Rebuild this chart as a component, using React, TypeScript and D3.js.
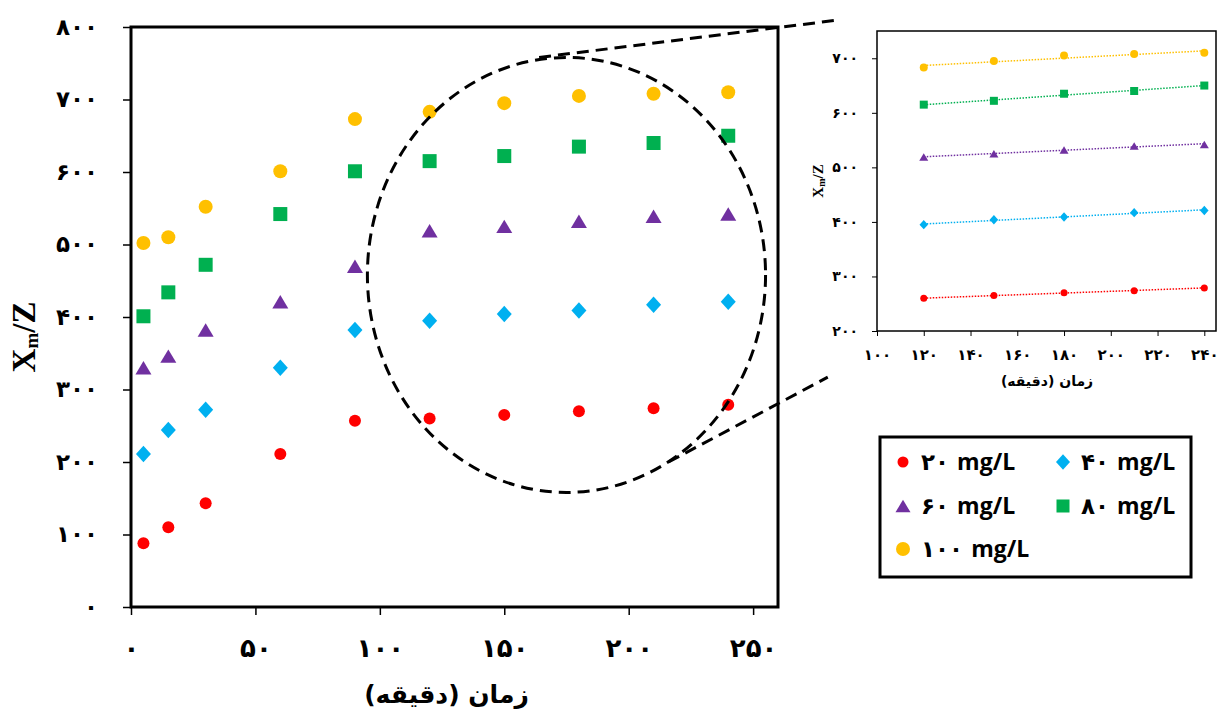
import React, { useRef, useEffect } from 'react';
import * as d3 from 'd3';

// sampling times (min)
const times = [5, 15, 30, 60, 90, 120, 150, 180, 210, 240];

// Xm/Z for each initial concentration
const c20 = [88, 110, 143, 211, 257, 260, 265, 270, 274, 279];
const c40 = [211, 244, 272, 330, 382, 395, 404, 409, 417, 421];
const c60 = [330, 346, 382, 421, 470, 519, 525, 532, 539, 542];
const c80 = [401, 434, 472, 542, 601, 615, 622, 635, 640, 650];
const c100 = [502, 510, 552, 601, 673, 683, 695, 705, 708, 710];

const seriesLabels = ['۲۰', '۴۰', '۶۰', '۸۰', '۱۰۰'];
const seriesColors = ['#FF0000', '#00B0F0', '#7030A0', '#00B050', '#FFC000'];
const seriesShapes = ['circle', 'diamond', 'triangle', 'square', 'circle'];
const seriesValues = [c20, c40, c60, c80, c100];

const xTicksMain = [0, 50, 100, 150, 200, 250];
const yTicksMain = [0, 100, 200, 300, 400, 500, 600, 700, 800];
const xTicksInset = [100, 120, 140, 160, 180, 200, 220, 240];
const yTicksInset = [200, 300, 400, 500, 600, 700];

const xTitle = 'زمان (دقیقه)';
const unit = 'mg/L';

const faDigits = '۰۱۲۳۴۵۶۷۸۹';
const fa = (n: any) => String(n).replace(/\d/g, (d) => faDigits[+d]);

const FA_FONT = 'DejaVu Sans';

function addMarker(g: any, shape: string, cx: number, cy: number, s: number, color: string) {
  if (shape === 'circle') {
    g.append('circle').attr('cx', cx).attr('cy', cy).attr('r', s / 2).attr('fill', color);
  } else if (shape === 'square') {
    g.append('rect').attr('x', cx - s / 2).attr('y', cy - s / 2).attr('width', s).attr('height', s).attr('fill', color);
  } else if (shape === 'diamond') {
    const w = s / 2, h = s * 0.55;
    g.append('path')
      .attr('d', `M${cx},${cy - h}L${cx + w},${cy}L${cx},${cy + h}L${cx - w},${cy}Z`)
      .attr('fill', color);
  } else {
    const w = s / 2, h = s * 0.42;
    g.append('path')
      .attr('d', `M${cx},${cy - h}L${cx + w},${cy + h}L${cx - w},${cy + h}Z`)
      .attr('fill', color);
  }
}

const Chart: React.FC = () => {
  const ref = useRef<SVGSVGElement>(null);

  useEffect(() => {
    if (!ref.current) return;
    const svg = d3.select(ref.current);
    svg.selectAll('*').remove();

    // ---------- main chart ----------
    const x = d3.scaleLinear().domain([0, 260]).range([131, 778]);
    const y = d3.scaleLinear().domain([0, 800]).range([607, 27]);

    svg.append('rect')
      .attr('x', x(0)).attr('y', y(800))
      .attr('width', x(260) - x(0)).attr('height', y(0) - y(800))
      .attr('fill', 'none').attr('stroke', '#000').attr('stroke-width', 3);

    const yAxis = svg.append('g')
      .attr('transform', `translate(${x(0)},0)`)
      .call(d3.axisLeft(y).tickValues(yTicksMain).tickSize(8).tickPadding(25).tickFormat(fa));
    yAxis.select('.domain').remove();
    yAxis.selectAll('line').attr('stroke-width', 1.5);
    yAxis.selectAll('text')
      .attr('font-family', FA_FONT).attr('font-weight', 'bold').attr('font-size', 23)
      .attr('letter-spacing', -2).attr('fill', '#000');

    const xAxis = svg.append('g')
      .attr('transform', `translate(0,${y(0)})`)
      .call(d3.axisBottom(x).tickValues(xTicksMain).tickSize(8).tickPadding(24).tickFormat(fa));
    xAxis.select('.domain').remove();
    xAxis.selectAll('line').attr('stroke-width', 1.5);
    xAxis.selectAll('text')
      .attr('font-family', FA_FONT).attr('font-weight', 'bold').attr('font-size', 26)
      .attr('letter-spacing', -2).attr('fill', '#000');

    svg.append('text')
      .attr('x', (x(0) + x(260)) / 2 - 8).attr('y', 703)
      .attr('text-anchor', 'middle').attr('direction', 'rtl')
      .attr('font-family', FA_FONT).attr('font-weight', 'bold').attr('font-size', 25)
      .text(xTitle);

    const yt = svg.append('text')
      .attr('transform', 'translate(35,337) rotate(-90)')
      .attr('text-anchor', 'middle')
      .attr('font-family', 'Liberation Serif').attr('font-weight', 'bold').attr('font-size', 33);
    yt.append('tspan').text('X');
    yt.append('tspan').attr('font-size', 19).attr('dy', 3).text('m');
    yt.append('tspan').attr('dy', -3).text('/Z');

    const sizesMain = [12, 15, 16, 14, 14];
    seriesValues.forEach((vals, i) => {
      const g = svg.append('g');
      vals.forEach((v, j) => addMarker(g, seriesShapes[i], x(times[j]), y(v), sizesMain[i], seriesColors[i]));
    });

    // zoom ellipse and connectors
    svg.append('ellipse')
      .attr('cx', x(175)).attr('cy', y(458))
      .attr('rx', x(255) - x(175)).attr('ry', y(158) - y(458))
      .attr('fill', 'none').attr('stroke', '#000').attr('stroke-width', 3).attr('stroke-dasharray', '12,7');
    svg.append('line')
      .attr('x1', x(164)).attr('y1', y(758)).attr('x2', x(285)).attr('y2', y(810))
      .attr('stroke', '#000').attr('stroke-width', 3).attr('stroke-dasharray', '12,7');
    svg.append('line')
      .attr('x1', x(216)).attr('y1', y(200)).attr('x2', x(280)).attr('y2', y(317))
      .attr('stroke', '#000').attr('stroke-width', 3).attr('stroke-dasharray', '12,7');

    // ---------- inset ----------
    const xi = d3.scaleLinear().domain([100, 245]).range([877, 1216]);
    const yi = d3.scaleLinear().domain([200, 750]).range([331, 31]);

    svg.append('rect')
      .attr('x', xi(100)).attr('y', yi(750))
      .attr('width', xi(245) - xi(100)).attr('height', yi(200) - yi(750))
      .attr('fill', 'none').attr('stroke', '#000').attr('stroke-width', 1.5);

    const yiAxis = svg.append('g')
      .attr('transform', `translate(${xi(100)},0)`)
      .call(d3.axisLeft(yi).tickValues(yTicksInset).tickSize(5).tickPadding(14).tickFormat(fa));
    yiAxis.select('.domain').remove();
    yiAxis.selectAll('text')
      .attr('font-family', FA_FONT).attr('font-weight', 'bold').attr('font-size', 14)
      .attr('letter-spacing', -1).attr('fill', '#000');

    const xiAxis = svg.append('g')
      .attr('transform', `translate(0,${yi(200)})`)
      .call(d3.axisBottom(xi).tickValues(xTicksInset).tickSize(5).tickPadding(13).tickFormat(fa));
    xiAxis.select('.domain').remove();
    xiAxis.selectAll('text')
      .attr('font-family', FA_FONT).attr('font-weight', 'bold').attr('font-size', 15)
      .attr('letter-spacing', -1).attr('fill', '#000');

    svg.append('text')
      .attr('x', 1047).attr('y', 386)
      .attr('text-anchor', 'middle').attr('direction', 'rtl')
      .attr('font-family', FA_FONT).attr('font-weight', 'bold').attr('font-size', 14)
      .text(xTitle);

    const yti = svg.append('text')
      .attr('transform', 'translate(823,181) rotate(-90)')
      .attr('text-anchor', 'middle')
      .attr('font-family', 'Liberation Serif').attr('font-weight', 'bold').attr('font-size', 15);
    yti.append('tspan').text('X');
    yti.append('tspan').attr('font-size', 10).attr('dy', 2).text('m');
    yti.append('tspan').attr('dy', -2).text('/Z');

    const sizesInset = [7, 8.5, 9, 8, 8];
    seriesValues.forEach((vals, i) => {
      const pts = times.map((t, j) => [t, vals[j]]).filter((p) => p[0] >= 120);
      const mx = d3.mean(pts, (p) => p[0]) as number;
      const my = d3.mean(pts, (p) => p[1]) as number;
      const slope = (d3.sum(pts, (p) => (p[0] - mx) * (p[1] - my)) as number) /
        (d3.sum(pts, (p) => (p[0] - mx) ** 2) as number);
      const fit = (t: number) => my + slope * (t - mx);
      const g = svg.append('g');
      g.append('line')
        .attr('x1', xi(120)).attr('y1', yi(fit(120)))
        .attr('x2', xi(240)).attr('y2', yi(fit(240)))
        .attr('stroke', seriesColors[i]).attr('stroke-width', 1.5).attr('stroke-dasharray', '1.5,1.5');
      pts.forEach((p) => addMarker(g, seriesShapes[i], xi(p[0]), yi(p[1]), sizesInset[i], seriesColors[i]));
    });

    // ---------- legend ----------
    svg.append('rect')
      .attr('x', 880).attr('y', 437).attr('width', 311).attr('height', 140)
      .attr('fill', '#fff').attr('stroke', '#000').attr('stroke-width', 3);

    const legendCols = [903, 1063];
    const legendRows = [462, 506, 549];
    const legendSizes = [11, 14, 15, 13, 14];
    seriesLabels.forEach((lab, i) => {
      const cx = legendCols[i % 2];
      const cy = legendRows[Math.floor(i / 2)];
      const g = svg.append('g');
      addMarker(g, seriesShapes[i], cx, cy, legendSizes[i], seriesColors[i]);
      const t = g.append('text')
        .attr('x', cx + 18).attr('y', cy + 8)
        .attr('font-weight', 'bold').attr('fill', '#000');
      t.append('tspan').attr('font-family', FA_FONT).attr('font-size', 23).attr('letter-spacing', -1).text(lab + ' ');
      t.append('tspan').attr('font-family', 'Open Sans').attr('font-size', 23).text(unit);
    });
  }, []);

  return (
    <svg
      ref={ref}
      width={1219}
      height={715}
      style={{ position: 'absolute', left: 0, top: 0, background: '#fff' }}
    />
  );
};

export default function App() {
  return <Chart />;
}
